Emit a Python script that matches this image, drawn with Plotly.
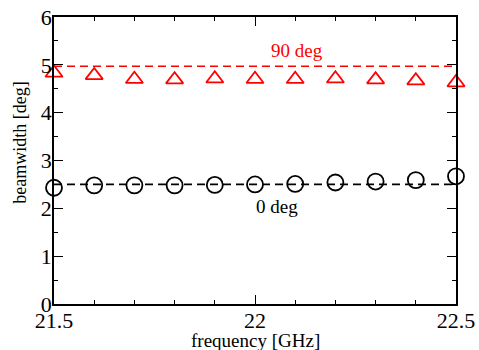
import plotly.graph_objects as go

# Beamwidth measurements vs frequency
freq = [21.5, 21.6, 21.7, 21.8, 21.9, 22.0, 22.1, 22.2, 22.3, 22.4, 22.5]
bw_90 = [4.83, 4.78, 4.70, 4.69, 4.71, 4.70, 4.70, 4.71, 4.69, 4.67, 4.63]
bw_0 = [2.43, 2.48, 2.48, 2.48, 2.49, 2.50, 2.51, 2.54, 2.56, 2.59, 2.67]

# Design (reference) levels drawn as dashed lines
ref_freq = [21.5, 22.5]
ref_90 = [4.97, 4.97]
ref_0 = [2.5, 2.5]

FONT = "Liberation Serif"

fig = go.Figure()
fig.add_trace(go.Scatter(x=ref_freq, y=ref_90, mode="lines",
                         line=dict(color="#ff0000", width=1.6, dash="8px,5px"),
                         cliponaxis=False))
fig.add_trace(go.Scatter(x=ref_freq, y=ref_0, mode="lines",
                         line=dict(color="#000000", width=1.6, dash="8px,5px"),
                         cliponaxis=False))
fig.add_trace(go.Scatter(x=freq, y=bw_90, mode="markers", cliponaxis=False,
                         marker=dict(symbol="triangle-up-open", size=15, color="#ff0000",
                                     line=dict(width=1.8, color="#ff0000"))))
fig.add_trace(go.Scatter(x=freq, y=bw_0, mode="markers", cliponaxis=False,
                         marker=dict(symbol="circle-open", size=16, color="#000000",
                                     line=dict(width=1.8, color="#000000"))))

axis_common = dict(showline=True, linecolor="black", linewidth=1.5, mirror="allticks",
                   ticks="inside", ticklen=9, tickwidth=1.2, tickcolor="black",
                   showgrid=False, zeroline=False, automargin=False,
                   tickfont=dict(family=FONT, size=22, color="black"))

fig.update_xaxes(range=[21.5, 22.5], tickvals=[21.5, 22.0, 22.5],
                 ticktext=["21.5", "22", "22.5"],
                 minor=dict(dtick=0.1, tick0=21.5, ticks="inside", ticklen=4,
                            tickwidth=1.2, tickcolor="black", showgrid=False),
                 ticklabelstandoff=-4,
                 **axis_common)
fig.update_yaxes(range=[0, 6], dtick=1, tick0=0,
                 minor=dict(dtick=0.5, tick0=0, ticks="inside", ticklen=4,
                            tickwidth=1.2, tickcolor="black", showgrid=False),
                 ticklabelstandoff=-4,
                 **axis_common)

fig.add_annotation(text="90 deg", x=22.104, y=5.31, showarrow=False,
                   font=dict(family=FONT, size=19, color="#ff0000"))
fig.add_annotation(text="0 deg", x=22.055, y=2.04, showarrow=False,
                   font=dict(family=FONT, size=19, color="black"))
# Axis titles placed as paper-anchored text
fig.add_annotation(text="frequency [GHz]", xref="paper", yref="paper", x=0.5, y=0,
                   xanchor="center", yanchor="middle", yshift=-36, showarrow=False,
                   font=dict(family=FONT, size=19, color="black"))
fig.add_annotation(text="beamwidth [deg]", xref="paper", yref="paper", x=0, y=0.562,
                   xanchor="center", yanchor="middle",
                   xshift=-34, textangle=-90, showarrow=False,
                   font=dict(family=FONT, size=18, color="black"))

fig.update_layout(width=479, height=350, showlegend=False,
                  margin=dict(l=54, r=23, t=17, b=45.5),
                  paper_bgcolor="white", plot_bgcolor="white")

fig.write_html("out.html")
